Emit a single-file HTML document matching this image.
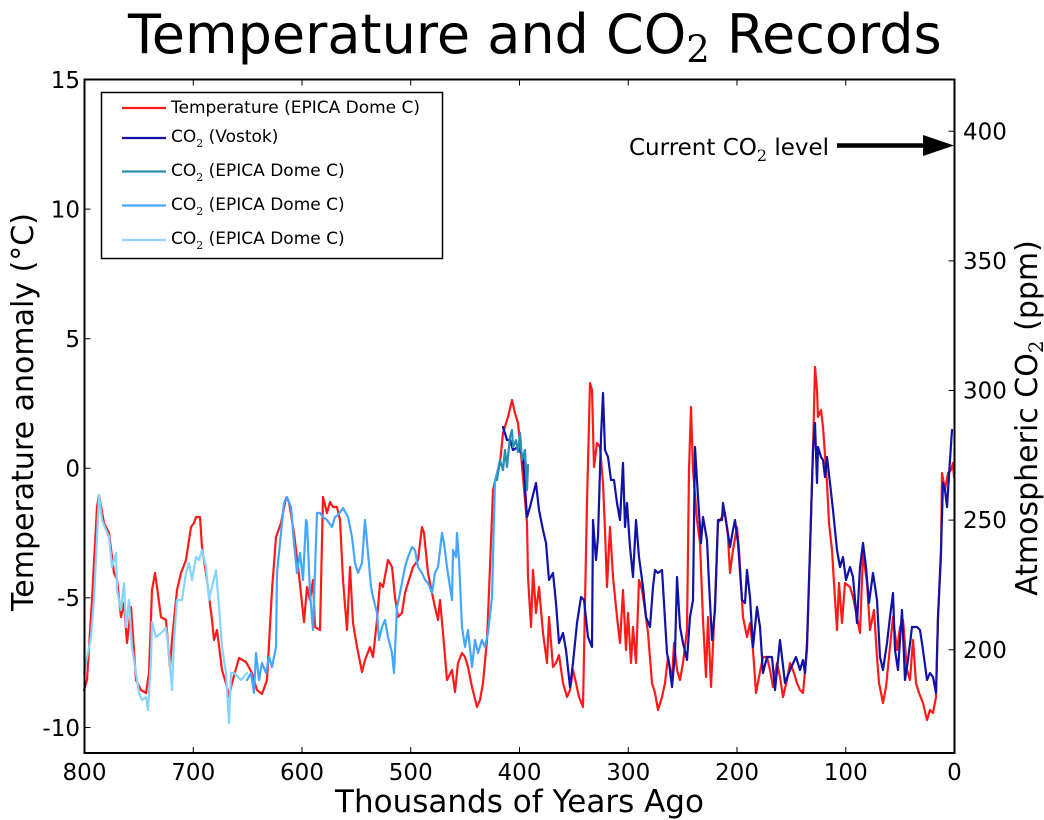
<!DOCTYPE html>
<html>
<head>
<meta charset="utf-8">
<style>
html,body{margin:0;padding:0;background:#fff;}
svg{display:block;}
text{font-family:"DejaVu Sans","Liberation Sans",sans-serif;fill:#000;}
.sub{font-family:"DejaVu Serif","Liberation Serif",serif;}
</style>
</head>
<body>
<svg width="1044" height="820" viewBox="0 0 1044 820" xmlns="http://www.w3.org/2000/svg">
<rect width="1044" height="820" fill="#fff"/>

<!-- Title -->
<text x="128" y="53" font-size="54">Temperature and CO<tspan class="sub" font-size="37" dy="9">2</tspan><tspan dy="-9"> Records</tspan></text>

<!-- Data series -->
<g fill="none" stroke-width="2.2" stroke-linejoin="round" stroke-linecap="round">
<polyline stroke="#ff1a1a" points="84,690 87,680 92,600 97,507 99,495 104,523 109,533 114,573 117,580 121,617 124,603 127,643 131,607 136,680 141,690 146,693 149,673 152,590 155,573 157,587 161,617 166,620 170,667 172,640 177,590 181,573 186,560 191,527 194,523 196,517 200,517 202,547 207,580 212,620 214,640 217,630 222,670 227,687 229,697 232,683 239,658 246,662 252,673 257,690 262,694 267,680 272,590 276,537 281,523 286,498 289,502 294,533 299,575 304,622 307,587 310,600 313,580 315,627 320,630 323,497 327,513 330,502 333,507 337,507 340,520 343,580 347,630 350,567 353,623 357,647 362,672 365,660 370,647 373,657 377,620 380,583 383,587 388,560 392,567 395,597 398,617 402,613 405,593 408,583 413,567 418,560 422,527 424,533 428,573 432,593 435,607 438,620 440,600 443,633 447,680 452,670 455,692 458,663 462,653 465,657 468,667 472,687 477,707 480,700 483,683 487,640 490,567 493,490 497,473 500,463 503,433 508,417 512,400 515,413 518,423 520,443 523,477 527,523 528,577 531,627 533,570 536,613 539,587 543,633 547,663 549,617 553,667 556,663 559,655 563,683 567,697 570,690 573,670 576,683 579,697 583,707 585,603 587,503 590,383 592,390 594,467 597,443 600,447 603,483 605,530 607,587 610,527 613,577 617,617 620,643 623,590 626,650 628,613 631,663 633,627 636,663 639,580 642,590 645,610 648,633 652,683 655,693 658,710 662,697 665,683 668,657 672,680 674,643 677,670 680,680 683,663 687,630 689,470 691,407 693,470 697,520 700,543 703,620 706,677 708,617 711,687 715,603 718,523 722,517 725,513 728,537 730,573 733,550 737,527 739,550 743,617 747,637 750,623 753,650 756,693 759,677 763,657 767,657 770,670 773,687 777,663 780,677 783,697 787,680 790,663 793,670 797,683 800,690 803,693 807,650 810,550 813,450 815,367 817,390 818,417 821,410 823,427 827,483 829,523 832,550 834,583 837,630 839,583 842,623 845,583 850,587 853,597 857,617 860,633 863,553 867,583 870,630 874,610 877,657 879,683 883,703 886,687 889,657 893,617 897,650 900,627 903,620 907,670 910,680 913,640 916,683 919,693 923,703 927,720 930,710 933,713 936,697 938,617 941,557 942,473 945,490 948,473 951,470 953,463 954,477"/>
<polyline stroke="#87d3ff" points="84,673 91,637 94,600 99,495 102,520 106,530 109,537 112,567 116,553 117,590 121,610 124,583 126,627 129,600 132,647 136,673 139,693 142,700 146,697 148,710 151,660 152,622 156,637 161,633 166,628 169,653 172,690 174,640 177,600 182,600 186,573 189,563 192,580 196,557 199,560 202,550 206,567 209,600 212,587 216,570 219,607 222,647 226,673 229,723 231,673 234,673 241,680 247,673"/>
<polyline stroke="#45a6ff" points="247,680 251,673 254,693 256,653 259,680 262,663 266,673 269,657 272,667 276,647 277,573 281,533 284,503 287,497 291,507 294,543 297,573 300,553 303,580 306,520 307,523 310,593 313,630 317,513 320,513 323,517 327,520 332,527 335,517 338,515 343,508 348,517 352,537 355,563 358,573 362,563 365,520 368,553 371,587 373,597 377,613 379,640 382,627 385,620 388,637 392,653 394,673 397,607 400,593 405,567 408,557 412,547 415,550 418,567 422,573 425,580 428,583 432,593 435,573 438,567 442,533 444,543 447,567 450,587 452,600 453,550 456,557 457,533 459,560 462,627 465,647 468,630 472,667 475,640 478,653 482,640 485,647 488,633 492,597 495,480 498,470 500,460"/>
<polyline stroke="#1212a6" points="503,427 507,440 510,440 513,450 518,447 523,457 527,517 530,507 536,483 539,510 543,530 546,543 549,580 553,573 556,603 559,643 563,633 566,650 570,687 573,663 577,623 581,597 584,600 588,637 592,647 593,520 596,560 598,537 601,437 603,393 605,450 608,457 611,480 614,480 617,503 620,520 623,463 625,527 627,503 630,547 633,577 636,520 639,557 643,587 646,617 650,627 653,587 655,570 658,573 662,570 664,603 667,653 669,663 672,687 675,653 677,577 680,627 683,643 687,660 690,617 693,600 695,447 698,497 701,543 703,517 707,540 709,583 712,640 715,610 718,520 722,520 723,503 727,527 730,547 733,530 735,520 738,543 742,600 745,603 747,570 750,597 753,647 757,607 760,627 763,673 767,657 772,657 775,690 780,640 785,683 790,670 796,657 800,670 803,660 805,673 807,643 810,550 813,450 815,423 817,483 818,447 821,457 823,460 825,477 827,457 830,483 833,510 837,550 840,567 843,557 846,580 850,567 853,577 857,623 860,567 863,543 866,567 869,603 873,573 877,600 880,657 883,670 887,643 890,617 893,593 895,650 898,670 902,610 905,680 908,660 912,627 917,627 920,630 923,650 927,680 930,673 933,677 936,693 938,617 941,550 943,483 945,490 947,507 950,460 952,430"/>
<polyline stroke="#2b8fb3" points="497,480 500,460 503,470 505,450 507,467 510,437 512,430 513,447 516,440 518,452 520,433 522,460 525,450 526,470 527,490 528,465"/>
</g>

<!-- Axes frame -->
<rect x="84.5" y="79.5" width="870" height="673.5" fill="none" stroke="#000" stroke-width="2"/>

<!-- Ticks -->
<g stroke="#000" stroke-width="1">
<path d="M193.25,753 v-6 M302,753 v-6 M410.75,753 v-6 M519.5,753 v-6 M628.25,753 v-6 M737,753 v-6 M845.75,753 v-6"/>
<path d="M193.25,79.5 v6 M302,79.5 v6 M410.75,79.5 v6 M519.5,79.5 v6 M628.25,79.5 v6 M737,79.5 v6 M845.75,79.5 v6"/>
<path d="M84.5,209.1 h6 M84.5,338.7 h6 M84.5,468.3 h6 M84.5,597.9 h6 M84.5,727.5 h6"/>
<path d="M954.5,131.3 h-6 M954.5,260.9 h-6 M954.5,390.5 h-6 M954.5,520.1 h-6 M954.5,649.7 h-6"/>
</g>

<!-- X tick labels -->
<g font-size="23" text-anchor="middle">
<text x="84.5" y="780">800</text>
<text x="193.25" y="780">700</text>
<text x="302" y="780">600</text>
<text x="410.75" y="780">500</text>
<text x="519.5" y="780">400</text>
<text x="628.25" y="780">300</text>
<text x="737" y="780">200</text>
<text x="845.75" y="780">100</text>
<text x="954.5" y="780">0</text>
</g>

<!-- Left tick labels -->
<g font-size="23" text-anchor="end">
<text x="80" y="88">15</text>
<text x="80" y="217.5">10</text>
<text x="80" y="347">5</text>
<text x="80" y="476.5">0</text>
<text x="80" y="606">-5</text>
<text x="80" y="736">-10</text>
</g>

<!-- Right tick labels -->
<g font-size="23" text-anchor="start">
<text x="963" y="139.5">400</text>
<text x="963" y="269">350</text>
<text x="963" y="398.5">300</text>
<text x="963" y="528">250</text>
<text x="963" y="658">200</text>
</g>

<!-- Axis labels -->
<text x="519.5" y="812" font-size="31" text-anchor="middle">Thousands of Years Ago</text>
<text transform="translate(33,412) rotate(-90)" font-size="30" text-anchor="middle">Temperature anomaly (°C)</text>
<text transform="translate(1037,418) rotate(-90)" font-size="30" text-anchor="middle">Atmospheric CO<tspan class="sub" font-size="20" dy="6">2</tspan><tspan dy="-6"> (ppm)</tspan></text>

<!-- Annotation -->
<text x="629" y="155" font-size="23">Current CO<tspan class="sub" font-size="16" dy="6">2</tspan><tspan dy="-6"> level</tspan></text>
<line x1="837" y1="145.5" x2="926" y2="145.5" stroke="#000" stroke-width="4.5"/>
<polygon points="923,135 954,145.5 923,156" fill="#000"/>

<!-- Legend -->
<rect x="101.5" y="92.5" width="341" height="166" fill="#fff" stroke="#000" stroke-width="1.5"/>
<g stroke-width="2.2">
<line x1="122" y1="108" x2="166" y2="108" stroke="#ff1a1a"/>
<line x1="122" y1="138" x2="166" y2="138" stroke="#1212a6"/>
<line x1="122" y1="171.5" x2="166" y2="171.5" stroke="#2b8fb3"/>
<line x1="122" y1="205.5" x2="166" y2="205.5" stroke="#45a6ff"/>
<line x1="122" y1="240" x2="166" y2="240" stroke="#87d3ff"/>
</g>
<g font-size="17">
<text x="171" y="113">Temperature (EPICA Dome C)</text>
<text x="171" y="142">CO<tspan class="sub" font-size="11" dy="5">2</tspan><tspan dy="-5"> (Vostok)</tspan></text>
<text x="171" y="176">CO<tspan class="sub" font-size="11" dy="5">2</tspan><tspan dy="-5"> (EPICA Dome C)</tspan></text>
<text x="171" y="210">CO<tspan class="sub" font-size="11" dy="5">2</tspan><tspan dy="-5"> (EPICA Dome C)</tspan></text>
<text x="171" y="244">CO<tspan class="sub" font-size="11" dy="5">2</tspan><tspan dy="-5"> (EPICA Dome C)</tspan></text>
</g>
</svg>
</body>
</html>
